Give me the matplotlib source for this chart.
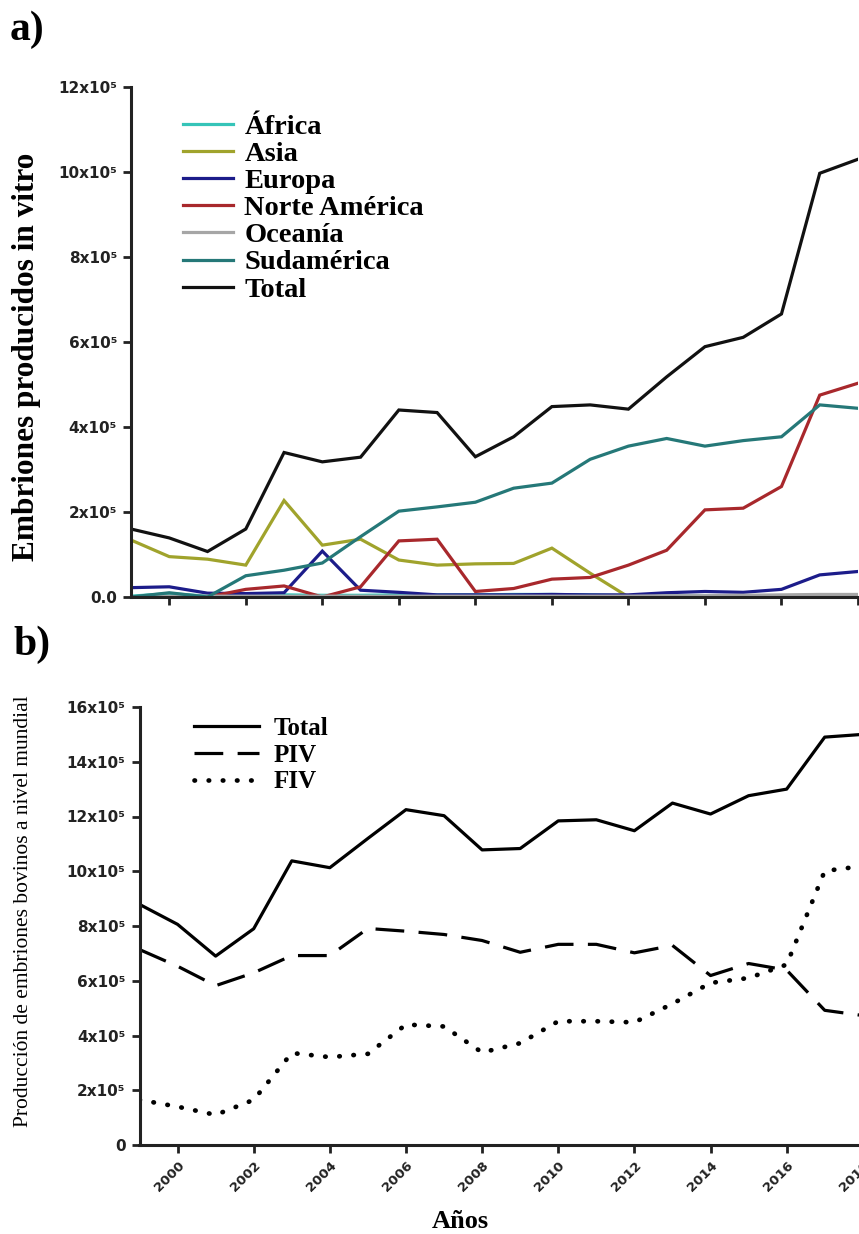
import numpy as np
import matplotlib
matplotlib.use("Agg")
import matplotlib.pyplot as plt

# años
years = list(range(1999, 2019))

# a) embriones producidos in vitro por región (x10^5)
africa = [0.02, 0.08, 0.02, 0.03, 0.05, 0.04, 0.04, 0.05, 0.05, 0.05,
          0.06, 0.06, 0.05, 0.03, 0.02, 0.02, 0.02, 0.03, 0.03, 0.03]
asia = [1.34, 0.95, 0.89, 0.75, 2.27, 1.22, 1.36, 0.87, 0.75, 0.78,
        0.79, 1.15, 0.56, 0.0, 0.0, 0.0, 0.0, 0.0, 0.0, 0.0]
europa = [0.22, 0.24, 0.09, 0.08, 0.10, 1.08, 0.16, 0.11, 0.05, 0.05,
          0.05, 0.06, 0.05, 0.05, 0.10, 0.13, 0.11, 0.18, 0.52, 0.60]
norte_america = [0.0, 0.0, 0.0, 0.18, 0.26, 0.0, 0.24, 1.32, 1.36, 0.13,
                 0.20, 0.42, 0.46, 0.75, 1.10, 2.05, 2.09, 2.60, 4.75, 5.03]
oceania = [0.01, 0.02, 0.02, 0.02, 0.02, 0.02, 0.02, 0.02, 0.02, 0.02,
           0.02, 0.02, 0.02, 0.02, 0.03, 0.03, 0.04, 0.05, 0.06, 0.06]
sudamerica = [0.0, 0.10, 0.0, 0.50, 0.63, 0.80, 1.42, 2.02, 2.12, 2.23,
              2.56, 2.68, 3.24, 3.55, 3.73, 3.55, 3.68, 3.77, 4.52, 4.44]
total_a = [1.60, 1.39, 1.07, 1.60, 3.40, 3.18, 3.29, 4.40, 4.34, 3.30,
           3.77, 4.48, 4.52, 4.42, 5.18, 5.89, 6.11, 6.66, 9.97, 10.30]

# b) producción mundial de embriones bovinos (x10^5)
total_b = [8.79, 8.06, 6.90, 7.90, 10.38, 10.13, 11.20, 12.25, 12.03, 10.78,
           10.83, 11.84, 11.88, 11.48, 12.49, 12.09, 12.76, 13.00, 14.90, 15.00]
piv = [7.14, 6.53, 5.82, 6.29, 6.92, 6.92, 7.91, 7.81, 7.69, 7.47,
       7.04, 7.33, 7.33, 7.02, 7.29, 6.19, 6.63, 6.39, 4.92, 4.73]
fiv = [1.65, 1.40, 1.10, 1.65, 3.36, 3.21, 3.33, 4.40, 4.33, 3.38,
       3.72, 4.52, 4.52, 4.48, 5.16, 5.92, 6.10, 6.59, 10.01, 10.19]

regiones = ["África", "Asia", "Europa", "Norte América", "Oceanía", "Sudamérica", "Total"]
colores = ["#35c4b8", "#a0a32c", "#1c1c8a", "#a8282c", "#a6a6a6", "#257878", "#111111"]

yticks_a = [0, 2, 4, 6, 8, 10, 12]
yticklabels_a = ["0.0", "2x10⁵", "4x10⁵", "6x10⁵", "8x10⁵", "10x10⁵", "12x10⁵"]
yticks_b = [0, 2, 4, 6, 8, 10, 12, 14, 16]
yticklabels_b = ["0", "2x10⁵", "4x10⁵", "6x10⁵", "8x10⁵", "10x10⁵", "12x10⁵", "14x10⁵", "16x10⁵"]
xticks = list(range(2000, 2019, 2))

serif = "Liberation Serif"
sans = ["DejaVu Sans"]

W, H = 859, 1234
fig = plt.figure(figsize=(W / 100, H / 100), dpi=100)


def style_axes(ax, yt, ytl):
    for s in ("top", "right"):
        ax.spines[s].set_visible(False)
    for s in ("left", "bottom"):
        ax.spines[s].set_linewidth(2.2)
        ax.spines[s].set_color("#222222")
    ax.set_xlim(1999, 2018)
    ax.set_xticks(xticks)
    ax.set_yticks(yt)
    ax.set_yticklabels(ytl, family=sans, fontweight="bold", fontsize=11, color="#222222")
    ax.tick_params(direction="out", length=6, width=2, color="#222222", pad=4)


# ---- panel a ----
ax1 = fig.add_axes([131 / W, 1 - 597 / H, (858 - 131) / W, (597 - 87) / H])
series_a = [africa, asia, europa, norte_america, oceania, sudamerica, total_a]
for nombre, datos, c in zip(regiones, series_a, colores):
    ax1.plot(years, datos, color=c, lw=2.3, label=nombre, solid_joinstyle="miter")
ax1.set_ylim(0, 12)
style_axes(ax1, yticks_a, yticklabels_a)
ax1.tick_params(axis="x", labelbottom=False)
leg1 = ax1.legend(loc="upper left", bbox_to_anchor=(0.056, 0.969), frameon=False,
                  prop={"family": serif, "weight": "bold", "size": 20.5},
                  handlelength=1.75, handletextpad=0.4, labelspacing=0.04,
                  borderaxespad=0)

# ---- panel b ----
ax2 = fig.add_axes([139.5 / W, 1 - 1145 / H, (862.8 - 139.5) / W, (1145 - 707) / H])
ax2.plot(years, total_b, color="black", lw=2.3, label="Total")
ax2.plot(years, piv, color="black", lw=2.3, linestyle=(0, (9, 4.5)), label="PIV")
ax2.plot(years, fiv, color="black", lw=3.4, linestyle=(0, (0.1, 2.9)),
         dash_capstyle="round", label="FIV")
ax2.set_ylim(0, 16)
style_axes(ax2, yticks_b, yticklabels_b)
ax2.set_xticklabels([str(x) for x in xticks], rotation=45, ha="right",
                    rotation_mode="anchor", family=sans, fontweight="bold",
                    fontsize=9.5, color="#222222")
leg2 = ax2.legend(loc="upper left", bbox_to_anchor=(0.061, 1.0), frameon=False,
                  prop={"family": serif, "weight": "bold", "size": 18},
                  handlelength=2.6, handletextpad=0.6, labelspacing=0.15,
                  borderaxespad=0)

# ---- textos ----
fig.text(10 / W, 1 - 11 / H, "a)", family=serif, fontweight="bold", fontsize=30,
         ha="left", va="top")
fig.text(13 / W, 1 - 626 / H, "b)", family=serif, fontweight="bold", fontsize=30,
         ha="left", va="top")
fig.text(27 / W, 1 - 357 / H, "Embriones producidos in vitro", family=serif,
         fontweight="bold", fontsize=22.5, rotation=90, ha="center", va="center")
fig.text(24 / W, 1 - 911 / H, "Producción de embriones bovinos a nivel mundial",
         family=serif, fontsize=15.5, rotation=90, ha="center", va="center")
fig.text(460 / W, 1 - 1221 / H, "Años", family=serif, fontweight="bold",
         fontsize=19, ha="center", va="center")

fig.savefig("out.png", dpi=100)
